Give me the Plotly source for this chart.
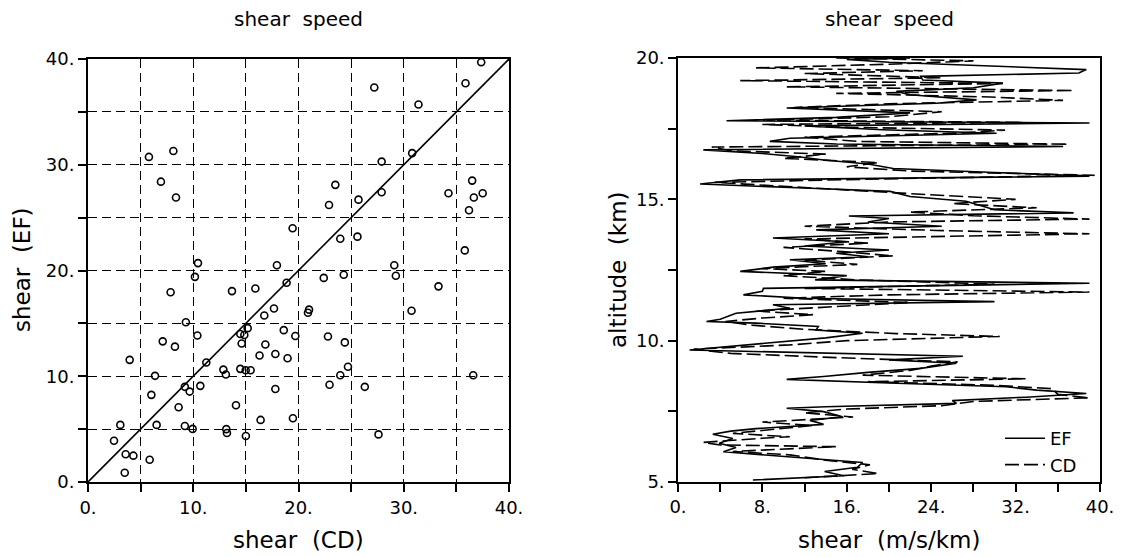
import plotly.graph_objects as go

# ---------------- data ----------------
# left panel: shear (CD) vs shear (EF)
shear_cd = [5.79, 8.11, 6.93, 8.36, 19.44, 10.45, 10.16, 17.95, 18.87, 7.85, 13.68, 15.9,
            37.36, 35.87, 27.2, 31.4, 30.8, 27.9, 23.5, 22.9, 25.7, 27.9, 34.25, 36.5, 36.66, 37.5,
            36.2, 23.97, 25.6, 35.8, 29.1, 29.25, 22.4, 24.3, 33.3,
            20.9, 21.0, 16.75, 17.67, 9.3, 15.17, 14.47, 14.85, 14.6, 18.6, 19.7, 10.39, 7.1, 8.26,
            16.85, 16.3, 17.8, 18.96, 11.24, 3.96, 12.86, 13.1, 14.47, 14.98, 15.45, 6.37, 9.2, 9.66,
            10.67, 6.02, 17.8, 8.61, 14.06, 3.07, 6.52, 9.2, 9.94, 13.14, 13.2, 15.0, 16.4, 19.47,
            2.47, 3.58, 4.31, 5.86, 3.49,
            30.74, 22.8, 24.4, 24.7, 23.97, 22.95, 26.3, 36.6, 27.6]
shear_ef = [30.74, 31.3, 28.4, 26.9, 24.0, 20.7, 19.4, 20.5, 18.84, 17.95, 18.05, 18.3,
            39.7, 37.7, 37.3, 35.7, 31.1, 30.3, 28.1, 26.2, 26.7, 27.4, 27.3, 28.5, 26.9, 27.3,
            25.7, 23.0, 23.2, 21.9, 20.5, 19.5, 19.3, 19.6, 18.5,
            16.0, 16.3, 15.75, 16.4, 15.1, 14.55, 14.0, 13.9, 13.1, 14.36, 13.8, 13.85, 13.3, 12.8,
            13.0, 11.96, 12.1, 11.7, 11.3, 11.55, 10.63, 10.16, 10.7, 10.57, 10.57, 10.04, 9.0, 8.55,
            9.09, 8.24, 8.8, 7.07, 7.26, 5.4, 5.4, 5.3, 5.02, 5.0, 4.64, 4.35, 5.87, 6.03,
            3.9, 2.62, 2.49, 2.1, 0.88,
            16.2, 13.76, 13.2, 10.9, 10.1, 9.2, 9.0, 10.1, 4.5]
diag = [0, 40]

# right panel: shear profiles vs altitude
alt_ef = [5.07, 5.22, 5.37, 5.52, 5.69, 5.84, 5.95, 6.07, 6.22, 6.37, 6.54, 6.69, 6.80, 6.89,
          7.04, 7.18, 7.31, 7.49, 7.61, 7.66, 7.78, 7.88, 8.00, 8.13, 8.25, 8.37, 8.50, 8.63,
          8.73, 8.88, 9.02, 9.20, 9.32, 9.45, 9.67, 9.80, 9.95, 10.10, 10.26, 10.38, 10.50,
          10.62, 10.68, 10.76, 10.97, 11.15, 11.27, 11.38, 11.50, 11.62, 11.75, 11.85, 12.03,
          12.15, 12.30, 12.45, 12.60, 12.72, 12.86, 12.97, 13.09, 13.21, 13.35, 13.50, 13.63,
          13.78, 13.92, 14.05, 14.20, 14.32, 14.41, 14.52, 14.63, 14.75, 14.93, 15.10, 15.28,
          15.40, 15.54, 15.69, 15.82, 15.95, 16.09, 16.25, 16.39, 16.50, 16.62, 16.75, 16.87,
          16.96, 17.05, 17.16, 17.30, 17.34, 17.46, 17.60, 17.70, 17.78, 17.90, 18.06, 18.23,
          18.40, 18.52, 18.70, 18.82, 18.95, 19.11, 19.22, 19.35, 19.47, 19.59, 19.72, 19.85,
          19.95, 20.00]
ef = [7.1, 15.7, 13.9, 17.0, 17.5, 12.2, 8.0, 4.3, 5.5, 3.9, 5.2, 3.3, 5.0, 7.4,
      13.8, 12.5, 15.6, 13.8, 10.3, 14.0, 26.4, 26.0, 33.0, 38.7, 34.0, 31.1, 20.0, 10.3,
      13.8, 18.0, 23.0, 26.4, 20.0, 27.0, 1.1, 5.0, 10.0, 14.0, 17.5, 13.1, 13.3,
      7.4, 2.7, 4.0, 5.5, 10.6, 9.0, 30.0, 12.0, 6.2, 8.0, 8.1, 39.0,
      13.0, 16.0, 5.9, 9.0, 14.0, 10.6, 18.0, 15.0, 20.0, 12.0, 16.0, 9.0,
      20.0, 13.1, 25.0, 18.0, 20.0, 16.2, 37.5, 30.0, 28.9, 27.3, 22.0, 20.1,
      12.0, 2.1, 5.9, 39.0, 30.0, 20.4, 18.0, 13.8, 11.6, 8.0, 2.4, 36.5,
      15.0, 8.7, 10.6, 25.0, 30.2, 19.4, 12.0, 39.0, 4.6, 15.0, 22.0, 10.3,
      24.5, 28.3, 22.0, 20.7, 28.0, 30.8, 23.2, 23.0, 38.0, 38.7, 30.0, 20.0,
      16.0, 22.0]

alt_cd = [5.15, 5.30, 5.45, 5.61, 5.75, 5.96, 6.08, 6.25, 6.31, 6.40, 6.55, 6.60, 6.72, 6.85,
          7.00, 7.12, 7.30, 7.45, 7.58, 7.70, 7.85, 7.98, 8.10, 8.30, 8.42, 8.55, 8.65, 8.78,
          8.95, 9.10, 9.25, 9.40, 9.55, 9.70, 9.85, 10.00, 10.15, 10.25, 10.40, 10.55, 10.68,
          10.80, 10.92, 11.05, 11.20, 11.35, 11.50, 11.62, 11.72, 11.85, 12.00, 12.15, 12.30,
          12.45, 12.55, 12.70, 12.85, 13.00, 13.15, 13.30, 13.45, 13.60, 13.78, 13.90, 14.05,
          14.20, 14.30, 14.42, 14.55, 14.70, 14.85, 15.00, 15.18, 15.35, 15.50, 15.60, 15.72,
          15.85, 16.00, 16.15, 16.30, 16.45, 16.60, 16.72, 16.85, 16.95, 17.05, 17.20, 17.35,
          17.45, 17.55, 17.65, 17.72, 17.80, 17.92, 18.10, 18.25, 18.38, 18.50, 18.62, 18.75,
          18.85, 18.98, 19.10, 19.20, 19.30, 19.45, 19.55, 19.65, 19.78, 19.90, 20.00]
cd = [12.0, 19.0, 16.5, 18.2, 14.4, 10.6, 5.2, 15.0, 4.0, 2.4, 8.0, 10.6, 5.2, 9.0,
      12.8, 8.0, 16.6, 12.0, 16.0, 25.0, 28.0, 39.0, 36.0, 35.5, 30.0, 18.0, 33.0, 17.5,
      22.0, 24.0, 26.5, 15.0, 5.0, 1.5, 10.6, 16.0, 30.5, 20.7, 12.0, 7.0, 4.5,
      8.0, 12.8, 7.4, 15.0, 22.0, 10.0, 20.0, 39.0, 12.0, 30.0, 17.0, 10.0,
      14.0, 8.0, 17.0, 12.0, 20.4, 15.6, 10.0, 18.0, 12.0, 39.0, 24.5, 12.0,
      20.0, 39.0, 28.0, 22.0, 34.0, 26.0, 32.0, 23.0, 15.0, 7.0, 3.5, 19.0,
      39.5, 22.0, 16.0, 19.0, 10.0, 14.0, 5.0, 3.2, 37.0, 17.0, 12.0, 27.0,
      31.0, 16.0, 8.0, 32.7, 8.4, 20.0, 25.0, 11.0, 20.0, 36.5, 29.6, 15.0,
      37.5, 10.3, 30.8, 5.9, 25.0, 12.0, 23.2, 7.4, 20.0, 28.0, 15.0]

left_ticks = [0, 5, 10, 15, 20, 25, 30, 35, 40]
left_labels = ["0.", "", "10.", "", "20.", "", "30.", "", "40."]
rx_ticks = [0, 4, 8, 12, 16, 20, 24, 28, 32, 36, 40]
rx_labels = ["0.", "", "8.", "", "16.", "", "24.", "", "32.", "", "40."]
ry_ticks = [5, 7.5, 10, 12.5, 15, 17.5, 20]
ry_labels = ["5.", "", "10.", "", "15.", "", "20."]

# ---------------- figure ----------------
W, H = 1123, 557
FONT = "DejaVu Sans"

fig = go.Figure()

fig.add_trace(go.Scatter(x=diag, y=diag, mode="lines", line=dict(color="black", width=1.6),
                         xaxis="x", yaxis="y", showlegend=False, hoverinfo="skip"))
fig.add_trace(go.Scatter(x=shear_cd, y=shear_ef, mode="markers",
                         marker=dict(symbol="circle-open", size=7, color="black",
                                     line=dict(width=1.6, color="black")),
                         xaxis="x", yaxis="y", showlegend=False))

fig.add_trace(go.Scatter(x=ef, y=alt_ef, mode="lines", name="EF",
                         line=dict(color="black", width=1.6),
                         xaxis="x2", yaxis="y2"))
fig.add_trace(go.Scatter(x=cd, y=alt_cd, mode="lines", name="CD",
                         line=dict(color="black", width=1.6, dash="14px,5px"),
                         xaxis="x2", yaxis="y2"))

def px_x(p):
    return p / W

def px_y(p):
    return 1 - p / H

axis_common = dict(showline=True, linecolor="black", mirror=True, ticks="outside",
                   ticklen=8, tickwidth=1.5, tickcolor="black", zeroline=False,
                   automargin=False,
                   tickfont=dict(family=FONT, size=18, color="black"))

fig.update_layout(
    width=W, height=H,
    margin=dict(l=0, r=0, t=0, b=0, autoexpand=False),
    paper_bgcolor="white", plot_bgcolor="white",
    font=dict(family=FONT, color="black"),
    xaxis=dict(domain=[px_x(88), px_x(509)], range=[0, 40], tickmode="array",
               tickvals=left_ticks, ticktext=left_labels, showgrid=True,
               gridcolor="black", gridwidth=1.2, griddash="9px,5px", linewidth=2,
               anchor="y", **axis_common),
    yaxis=dict(domain=[px_y(482), px_y(59)], range=[0, 40], tickmode="array",
               tickvals=left_ticks, ticktext=left_labels, showgrid=True,
               gridcolor="black", gridwidth=1.2, griddash="9px,5px", linewidth=2,
               anchor="x", **axis_common),
    xaxis2=dict(domain=[px_x(678), px_x(1100)], range=[0, 40], tickmode="array",
                tickvals=rx_ticks, ticktext=rx_labels, showgrid=False, linewidth=1.6,
                anchor="y2", **axis_common),
    yaxis2=dict(domain=[px_y(482), px_y(58)], range=[5, 20], tickmode="array",
                tickvals=ry_ticks, ticktext=ry_labels, showgrid=False, linewidth=1.6,
                anchor="x2", **axis_common),
    showlegend=True,
    legend=dict(x=px_x(1000), y=px_y(420), xanchor="left", yanchor="top",
                bgcolor="rgba(0,0,0,0)", borderwidth=0,
                font=dict(family=FONT, size=18, color="black"),
                itemwidth=40, tracegroupgap=4),
)

ann = [
    dict(text="shear  speed", x=px_x(298), y=px_y(19), font=dict(size=20)),
    dict(text="shear  speed", x=px_x(889), y=px_y(19), font=dict(size=20)),
    dict(text="shear  (CD)", x=px_x(298), y=px_y(540), font=dict(size=23)),
    dict(text="shear  (m/s/km)", x=px_x(889), y=px_y(540), font=dict(size=23)),
    dict(text="shear  (EF)", x=px_x(22), y=px_y(270), font=dict(size=23), textangle=-90),
    dict(text="altitude  (km)", x=px_x(618), y=px_y(270), font=dict(size=23), textangle=-90),
]
for a in ann:
    a.update(xref="paper", yref="paper", showarrow=False, xanchor="center", yanchor="middle")
    a["font"] = dict(family=FONT, color="black", **a["font"])
    fig.add_annotation(**a)

fig.write_html("out.html", config={"displayModeBar": False})

# remove the default page margin so the figure sits at the window's top-left corner
with open("out.html", "r", encoding="utf-8") as f:
    html = f.read()
html = html.replace("<head>", "<head><style>html,body{margin:0;padding:0;overflow:hidden;}</style>", 1)
with open("out.html", "w", encoding="utf-8") as f:
    f.write(html)
